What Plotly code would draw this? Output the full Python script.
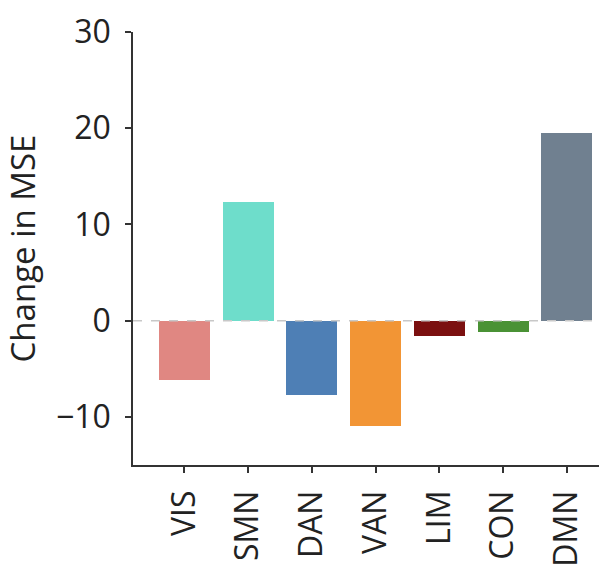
import plotly.graph_objects as go

categories = ["VIS", "SMN", "DAN", "VAN", "LIM", "CON", "DMN"]
values = [-6.2, 12.3, -7.75, -10.9, -1.6, -1.2, 19.5]
colors = ["#E08782", "#6EDDCB", "#4E7FB5", "#F29535", "#7B1010", "#4A9235", "#708090"]
y_ticks = [-10, 0, 10, 20, 30]

FONT = "Open Sans"

fig = go.Figure()
fig.add_trace(go.Bar(
    x=categories, y=values, marker=dict(color=colors, line=dict(width=0)),
    width=0.8, showlegend=False,
))
fig.add_shape(type="line", xref="paper", yref="y", x0=0, x1=0.995, y0=0, y1=0,
              line=dict(color="#c8c8c8", width=1.5, dash="dash"), layer="above")

fig.update_layout(
    width=599, height=565,
    margin=dict(l=133, r=0, t=32, b=100, autoexpand=False),
    plot_bgcolor="white", paper_bgcolor="white",
    font=dict(family=FONT, size=32, color="#222222"),
    bargap=0,
)
fig.update_xaxes(
    range=[-0.804, 6.505], showline=True, linecolor="#333333", linewidth=1.5,
    ticks="outside", ticklen=6, tickwidth=1.5, tickcolor="#333333",
    tickangle=-90, ticklabelstandoff=5, showgrid=False, zeroline=False,
    tickfont=dict(size=32), automargin=False,
)
fig.update_yaxes(
    range=[-15, 30], tickvals=y_ticks, showline=True, linecolor="#333333", linewidth=1.5,
    ticks="outside", ticklen=6, tickwidth=1.5, tickcolor="#333333",
    ticklabelstandoff=8, showgrid=False, zeroline=False,
    tickfont=dict(size=32), automargin=False,
    title=dict(text="Change in MSE", font=dict(size=33), standoff=16),
)
fig.write_html("out.html", config={"displayModeBar": False},
               post_script="document.body.style.margin='0';document.body.style.overflow='hidden';")
